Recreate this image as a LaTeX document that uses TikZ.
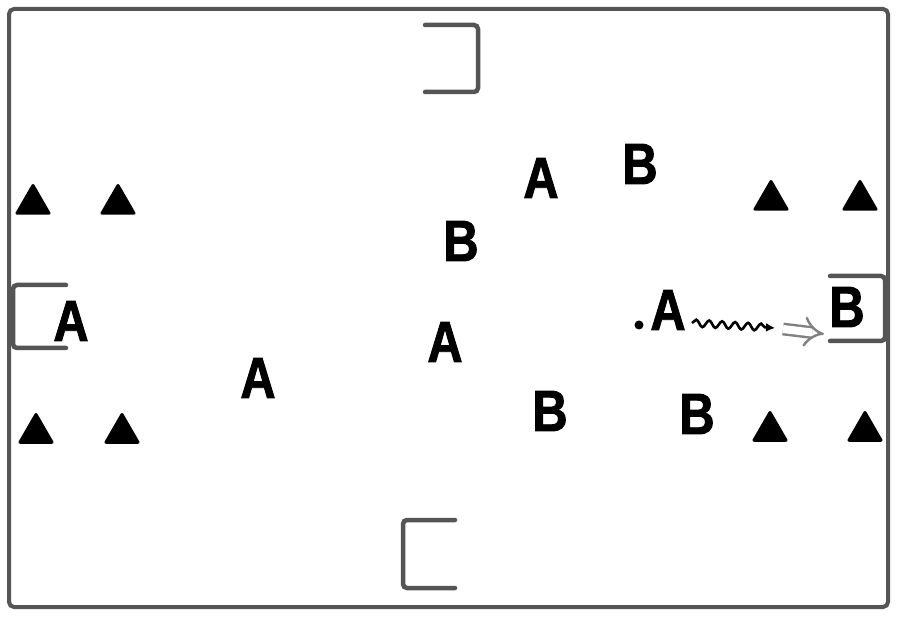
\documentclass[tikz,border=0pt]{standalone}
\usepackage{fontspec}
\newfontfamily\letterfont{Liberation Sans Bold}[FakeStretch=0.84, FakeBold=1.6]
\usetikzlibrary{shapes.geometric,decorations.pathmorphing,arrows.meta}
\definecolor{framegray}{HTML}{555555}
\tikzset{
  lett/.style={inner sep=0pt, font=\letterfont\fontsize{58}{60}\selectfont},
  cone/.style={regular polygon, regular polygon sides=3, fill=black, draw=black, line width=3pt, line join=round, minimum size=37pt, inner sep=0pt},
  goalline/.style={draw=framegray, line width=4.5pt, rounded corners=4pt, line cap=round},
  framel/.style={draw=framegray, line width=4pt, rounded corners=5pt},
}
\begin{document}
\begin{tikzpicture}[x=1pt,y=-1pt]
\useasboundingbox (0,0) rectangle (900,620);
\fill[white] (0,0) rectangle (900,620);
% field
\draw[framel] (9,9) rectangle (888,607);
% goals
\draw[goalline] (425,25) -- (478,25) -- (478,92) -- (425,92);
\draw[goalline] (455,520) -- (403,520) -- (403,588) -- (455,588);
\draw[goalline] (66,285) -- (13,285) -- (13,348) -- (66,348);
\draw[goalline] (830,276) -- (885,276) -- (885,341) -- (830,341);
% cones
\node[cone] (c1) at (33,204) {};
\node[cone] (c2) at (118,204) {};
\node[cone] (c3) at (771,200) {};
\node[cone] (c4) at (860,200) {};
\node[cone] (c5) at (36,433) {};
\node[cone] (c6) at (122,433) {};
\node[cone] (c7) at (770,431) {};
\node[cone] (c8) at (865,431) {};
% players
\node[lett] (a1) at (541,178) {A};
\node[lett] (b1) at (640,164) {B};
\node[lett] (b2) at (461,241) {B};
\node[lett] (a2) at (71,321) {A};
\node[lett] (a3) at (445,342) {A};
\node[lett] (a4) at (258,378) {A};
\node[lett] (a5) at (668,310) {A};
\node[lett] (b3) at (847,307) {B};
\node[lett] (b4) at (550,411) {B};
\node[lett] (b5) at (697,414) {B};
% ball and dribble
\node[circle, fill=black, inner sep=0pt, minimum size=9pt] (ball) at (639,325) {};
\coordinate (d0) at (692,323);
\coordinate (d1) at (775,328);
\draw[line width=2.6pt, decorate, decoration={snake, amplitude=3.5pt, segment length=13pt, post length=7pt}, -{Latex[length=9pt,width=9pt]}] (d0) -- (d1);
\coordinate (s0) at (783,329);
\coordinate (s1) at (824,334);
\draw[gray, line width=2.4pt, double=white, double distance=8pt, -{Implies}] (s0) -- (s1);
\end{tikzpicture}
\end{document}
